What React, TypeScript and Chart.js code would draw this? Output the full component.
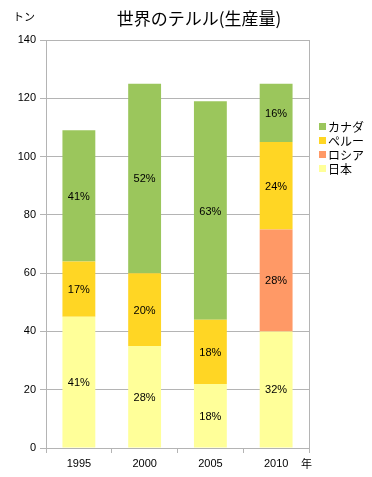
import React, { useEffect, useRef } from "react";
import { Chart, registerables } from "chart.js";

Chart.register(...registerables);

const categories = ["1995", "2000", "2005", "2010"];
const japan = [45, 35, 22, 40];
const russia = [0, 0, 0, 35];
const peru = [19, 25, 22, 30];
const canada = [45, 65, 75, 20];
const yTicks = [0, 20, 40, 60, 80, 100, 120, 140];

const title = "世界のテルル(生産量)";
const yUnit = "トン";
const xUnit = "年";

const FONT = "'Liberation Sans', 'Noto Sans CJK JP', sans-serif";
const JFONT = "'Noto Sans CJK JP', 'Liberation Sans', sans-serif";

const COLORS = {
  canada: "#9BC65C",
  peru: "#FFD624",
  russia: "#FF9966",
  japan: "#FFFF99",
};
const GRID = "#B4B4B4";

const decorPlugin = {
  id: "decor",
  afterDatasetsDraw(chart: any) {
    const ctx = chart.ctx;
    const area = chart.chartArea;
    // right border
    ctx.save();
    ctx.strokeStyle = GRID;
    ctx.lineWidth = 1;
    ctx.beginPath();
    ctx.moveTo(Math.round(area.right) + 0.5, area.top);
    ctx.lineTo(Math.round(area.right) + 0.5, area.bottom);
    ctx.stroke();

    // percentage labels
    const n = chart.data.labels.length;
    const totals: number[] = [];
    for (let i = 0; i < n; i++) {
      let s = 0;
      chart.data.datasets.forEach((d: any) => (s += d.data[i] || 0));
      totals.push(s);
    }
    ctx.fillStyle = "#000";
    ctx.font = "11px " + FONT;
    ctx.textAlign = "center";
    ctx.textBaseline = "middle";
    chart.data.datasets.forEach((d: any, di: number) => {
      const meta = chart.getDatasetMeta(di);
      meta.data.forEach((bar: any, i: number) => {
        const v = d.data[i];
        if (!v) return;
        const pct = Math.round((v / totals[i]) * 100);
        const y = (bar.y + bar.base) / 2;
        ctx.fillText(pct + "%", bar.x, y + 1);
      });
    });

    // title & unit labels
    ctx.font = "17px " + JFONT;
    ctx.fillText(title, 199, 19);
    ctx.font = "11px " + JFONT;
    ctx.textAlign = "left";
    ctx.fillText(yUnit, 13, 17);
    ctx.fillText(xUnit, 301, 464);

    // legend (reverse order)
    const items = [...chart.data.datasets].reverse();
    ctx.font = "12px " + JFONT;
    items.forEach((d: any, k: number) => {
      const cy = 126 + k * 14;
      ctx.fillStyle = d.backgroundColor;
      ctx.fillRect(319, cy - 3, 7, 7);
      ctx.fillStyle = "#000";
      ctx.textBaseline = "middle";
      ctx.fillText(d.label, 328, cy + 1);
    });
    ctx.restore();
  },
};

export default function App() {
  const ref = useRef<HTMLCanvasElement>(null);
  useEffect(() => {
    const chart = new Chart(ref.current!, {
      type: "bar",
      data: {
        labels: categories,
        datasets: [
          { label: "日本", data: japan, backgroundColor: COLORS.japan },
          { label: "ロシア", data: russia, backgroundColor: COLORS.russia },
          { label: "ペルー", data: peru, backgroundColor: COLORS.peru },
          { label: "カナダ", data: canada, backgroundColor: COLORS.canada },
        ],
      },
      options: {
        responsive: false,
        animation: false,
        layout: { padding: { top: 40, right: 63, left: 0, bottom: 0 } },
        plugins: {
          legend: { display: false },
          title: { display: false },
          tooltip: { enabled: false },
        },
        datasets: { bar: { barPercentage: 0.5, categoryPercentage: 1, borderWidth: 0 } },
        scales: {
          x: {
            stacked: true,
            offset: true,
            grid: {
              offset: true,
              drawOnChartArea: false,
              drawTicks: true,
              tickLength: 5,
              color: GRID,
            },
            border: { color: GRID },
            ticks: { color: "#000", font: { family: FONT, size: 11 }, padding: 4, maxRotation: 0 },
            afterFit(scale: any) {
              scale.height = 29;
            },
          },
          y: {
            stacked: true,
            min: 0,
            max: 140,
            afterBuildTicks(scale: any) {
              scale.ticks = yTicks.map((v) => ({ value: v }));
            },
            grid: { color: GRID, tickLength: 6, drawTicks: true },
            border: { color: GRID },
            ticks: { color: "#000", font: { family: FONT, size: 11 }, padding: 4 },
            afterFit(scale: any) {
              scale.width = 46;
            },
          },
        },
      },
      plugins: [decorPlugin],
    } as any);
    return () => chart.destroy();
  }, []);
  return (
    <div style={{ position: "absolute", left: 0, top: 0, width: 372, height: 477 }}>
      <canvas ref={ref} width={372} height={477} style={{ width: 372, height: 477, display: "block" }} />
    </div>
  );
}
